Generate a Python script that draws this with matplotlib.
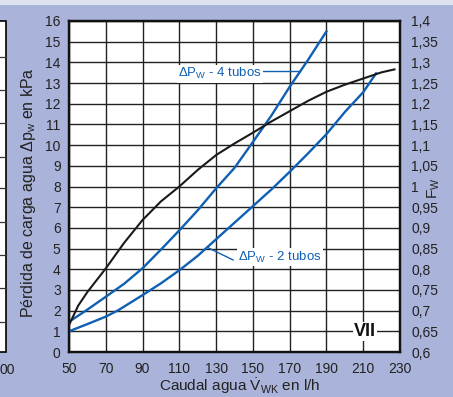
import matplotlib
matplotlib.use("Agg")
import matplotlib.pyplot as plt
from matplotlib.patches import Rectangle
from matplotlib.lines import Line2D

plt.rcParams['font.family'] = ['Liberation Sans', 'DejaVu Sans']
plt.rcParams['mathtext.fontset'] = 'custom'
plt.rcParams['mathtext.rm'] = 'Liberation Sans'
plt.rcParams['mathtext.it'] = 'Liberation Sans'

# ---- data ----
x_fw = [50, 55, 60, 70, 80, 90, 100, 110, 120, 130, 140, 150, 160, 170, 180, 190, 200, 210, 220, 227]
fw = [0.665, 0.712, 0.745, 0.802, 0.864, 0.919, 0.964, 1.000, 1.040, 1.076, 1.104, 1.130,
      1.157, 1.182, 1.207, 1.229, 1.246, 1.261, 1.276, 1.283]

x_4t = [50, 60, 70, 80, 90, 100, 110, 120, 130, 140, 150, 160, 170, 180, 190]
dp_4t = [1.46, 2.05, 2.67, 3.30, 4.05, 4.95, 5.88, 6.85, 7.91, 8.90, 10.15, 11.42, 12.82, 14.12, 15.5]

x_2t = [50, 60, 70, 77, 90, 100, 110, 120, 130, 140, 150, 160, 170, 180, 190, 200, 210, 217]
dp_2t = [1.0, 1.35, 1.71, 2.03, 2.75, 3.32, 3.95, 4.65, 5.45, 6.25, 7.05, 7.85, 8.71, 9.6, 10.53, 11.6, 12.56, 13.47]

x_ticks = [50, 70, 90, 110, 130, 150, 170, 190, 210, 230]
y_ticks = list(range(0, 17))
fw_ticks = [0.6, 0.65, 0.7, 0.75, 0.8, 0.85, 0.9, 0.95, 1.0, 1.05, 1.1, 1.15, 1.2, 1.25, 1.3, 1.35, 1.4]
fw_labels = ['0,6', '0,65', '0,7', '0,75', '0,8', '0,85', '0,9', '0,95', '1', '1,05', '1,1',
             '1,15', '1,2', '1,25', '1,3', '1,35', '1,4']

W, H = 453, 397
fig = plt.figure(figsize=(W / 100, H / 100), dpi=100)
bg = '#aab3d9'
fig.patch.set_facecolor(bg)
fig.patches.append(Rectangle((0, 1 - 5 / H), 1, 5 / H, transform=fig.transFigure,
                             facecolor='#dfe2f1', edgecolor='none', zorder=0))
# partial neighbouring chart at left edge
fig.patches.append(Rectangle((-0.01, 1 - 352 / H), 5.5 / W + 0.01, 331 / H, transform=fig.transFigure,
                             facecolor='white', edgecolor='black', linewidth=1.2, zorder=1))
for py in [57, 90, 123, 157, 188, 222, 255, 288, 322]:
    fig.lines.append(Line2D([0, 5.5 / W], [1 - py / H, 1 - py / H], transform=fig.transFigure,
                            color='#333333', linewidth=0.9, zorder=2))
fig.text(0 / W, 1 - 370 / H, '00', fontsize=10, ha='left', va='center', color='#222222')

ax = fig.add_axes([69 / W, 1 - 352 / H, 331 / W, 331 / H])
ax.set_facecolor('white')
ax.set_xlim(50, 230)
ax.set_ylim(0, 16)
ax.set_xticks(x_ticks)
ax.set_yticks(y_ticks)
ax.grid(True, color='#222222', linewidth=1.0)
ax.set_axisbelow(True)
ax.tick_params(axis='both', length=0, labelsize=10, colors='#222222')
ax.tick_params(axis='x', pad=7)
ax.tick_params(axis='y', pad=6)
for s in ax.spines.values():
    s.set_linewidth(1.6)
    s.set_color('#111111')

blue = '#0f5fb3'
ax.plot(x_4t, dp_4t, color=blue, linewidth=1.7, zorder=3)
ax.plot(x_2t, dp_2t, color=blue, linewidth=1.7, zorder=3)

# leader lines and labels
ax.plot([155.5, 175.6], [13.6, 13.6], color=blue, linewidth=1.0, zorder=3)
ax.plot([125.6, 139.2], [5.04, 4.45], color=blue, linewidth=1.0, zorder=3)
ax.text(109.3, 13.45, r'ΔP$_\mathregular{W}$ - 4 tubos', color=blue, fontsize=9.5,
        ha='left', va='center', zorder=4,
        bbox=dict(facecolor='white', edgecolor='none', pad=1.0))
ax.text(141.9, 4.59, r'ΔP$_\mathregular{W}$ - 2 tubos', color=blue, fontsize=9.5,
        ha='left', va='center', zorder=4,
        bbox=dict(facecolor='white', edgecolor='none', pad=1.0))

ax2 = ax.twinx()
ax2.set_ylim(0.6, 1.4)
ax2.set_yticks(fw_ticks)
ax2.set_yticklabels(fw_labels)
ax2.tick_params(axis='y', length=0, labelsize=10, pad=8, colors='#222222')
for s in ax2.spines.values():
    s.set_linewidth(1.6)
    s.set_color('#111111')
ax2.plot(x_fw, fw, color='#1a1a1a', linewidth=1.5, zorder=3)
ax2.text(211.0, 0.65, 'VII', fontsize=13, fontweight='bold', ha='center', va='center',
         color='#111111', zorder=5,
         bbox=dict(facecolor='white', edgecolor='none', pad=0.8))

fig.text(29 / W, 1 - 193 / H, r'Pérdida de carga agua Δp$_\mathregular{w}$ en kPa',
         rotation=90, fontsize=11.5, ha='center', va='center', color='#222222')
fig.text(240 / W, 1 - 391 / H, r'Caudal agua $\dot{V}_\mathregular{WK}$ en l/h',
         fontsize=11, ha='center', va='baseline', color='#222222')
fig.text(434 / W, 1 - 188 / H, r'F$_\mathregular{W}$', rotation=90, fontsize=11,
         ha='center', va='center', color='#222222')

fig.savefig('out.png', dpi=100, facecolor=fig.get_facecolor())
